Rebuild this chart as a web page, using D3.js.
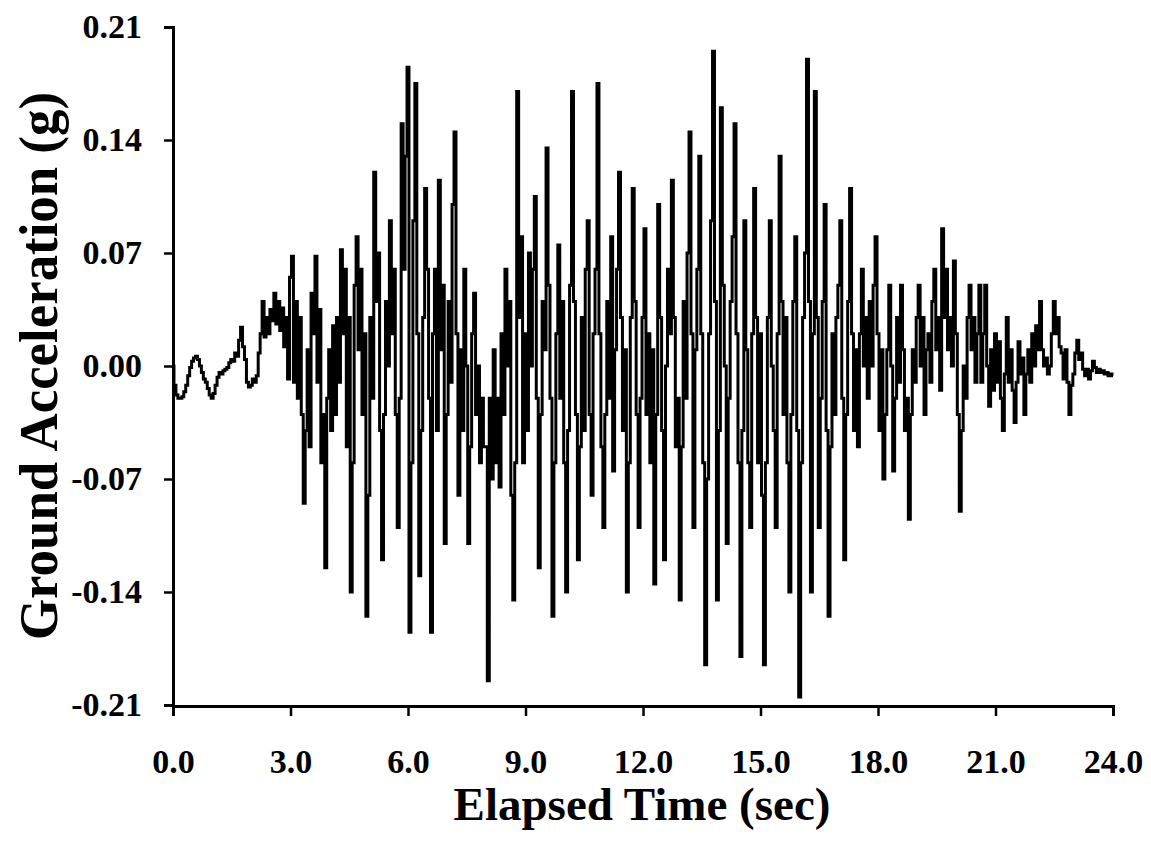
<!DOCTYPE html>
<html>
<head>
<meta charset="utf-8">
<script src="https://cdn.jsdelivr.net/npm/d3@7"></script>
<style>
  body { margin: 0; background: #fff; }
  svg text { font-family: "Liberation Serif", "Times New Roman", serif; font-weight: bold; fill: #000; }
</style>
</head>
<body>
<svg id="chart" width="1151" height="851"></svg>
<script>
// sample spacing of the record (sec)
const dt = 0.05;

// ground acceleration (g), one row per second
const accel = [
  0.000, -0.012, -0.018, -0.020, -0.020, -0.019, -0.016, -0.012, -0.006, -0.001, 0.003, 0.005, 0.006, 0.004, 0.000, -0.004, -0.008, -0.010, -0.014, -0.018,
  -0.020, -0.017, -0.012, -0.007, -0.004, -0.005, -0.003, -0.002, -0.001, 0.002, 0.004, 0.003, 0.008, 0.006, 0.016, 0.024, 0.012, 0.004, -0.010, -0.013,
  -0.012, -0.008, -0.010, -0.006, 0.008, 0.020, 0.040, 0.018, 0.030, 0.020, 0.035, 0.028, 0.045, 0.026, 0.040, 0.022, 0.036, 0.012, 0.030, -0.008,
  0.055, 0.068, -0.010, 0.040, -0.020, 0.030, -0.030, -0.085, -0.040, 0.010, -0.050, 0.045, 0.020, 0.068, -0.010, 0.035, -0.060, -0.030, -0.125, -0.020,
  0.010, -0.040, 0.025, -0.030, 0.030, -0.010, 0.072, 0.020, 0.060, -0.050, 0.030, -0.140, -0.060, 0.050, 0.080, 0.010, 0.060, -0.030, 0.020, -0.155,
  -0.080, 0.030, -0.020, 0.120, 0.040, 0.070, -0.040, -0.120, -0.030, 0.040, 0.000, 0.090, 0.020, 0.060, -0.030, -0.100, -0.020, 0.150, 0.060, 0.130,
  0.185, -0.165, -0.060, 0.090, 0.175, 0.020, -0.130, -0.040, 0.030, 0.110, 0.060, -0.020, -0.165, 0.020, 0.060, -0.040, 0.115, 0.010, 0.050, -0.110,
  -0.030, 0.040, -0.010, 0.100, 0.145, 0.020, -0.080, 0.010, -0.040, 0.060, 0.000, -0.110, -0.050, 0.020, 0.045, -0.030, 0.000, -0.060, -0.020, -0.050,
  -0.050, -0.195, -0.020, -0.070, 0.010, -0.060, -0.020, -0.075, 0.020, -0.030, 0.060, 0.000, 0.040, -0.080, -0.145, -0.060, 0.170, 0.030, 0.080, -0.060,
  0.020, -0.040, 0.070, 0.000, 0.060, 0.105, -0.020, -0.125, -0.030, 0.040, 0.010, 0.135, 0.050, -0.020, -0.155, -0.060, 0.020, 0.075, -0.020, 0.040,
  -0.060, -0.140, -0.040, 0.050, 0.170, 0.040, -0.030, -0.120, -0.050, 0.030, -0.040, 0.060, 0.090, -0.030, -0.080, 0.020, 0.060, 0.175, 0.020, -0.050,
  -0.100, -0.030, 0.040, -0.020, 0.080, -0.065, 0.010, 0.060, 0.120, 0.030, -0.040, 0.010, -0.140, -0.060, 0.030, 0.110, 0.040, -0.030, -0.100, -0.020,
  0.030, 0.085, -0.030, 0.020, -0.060, 0.010, -0.135, -0.030, 0.100, 0.030, -0.040, -0.120, 0.000, 0.060, 0.020, 0.115, 0.030, -0.050, -0.020, -0.145,
  -0.050, 0.040, -0.020, 0.070, 0.145, 0.020, -0.100, 0.010, 0.060, 0.130, 0.020, -0.060, -0.185, -0.070, 0.020, 0.090, 0.195, 0.040, -0.145, -0.040,
  0.160, 0.050, 0.000, -0.110, -0.020, 0.040, 0.080, 0.150, 0.020, -0.060, -0.180, -0.040, 0.090, 0.010, -0.060, -0.100, 0.020, 0.110, 0.030, -0.060,
  0.020, -0.080, -0.185, -0.060, 0.030, 0.090, 0.000, -0.040, -0.100, 0.020, 0.130, 0.040, -0.030, 0.030, -0.060, -0.140, -0.030, 0.040, 0.080, -0.040,
  -0.205, -0.060, 0.030, 0.070, 0.190, 0.040, -0.140, 0.020, 0.170, 0.030, -0.100, -0.020, 0.040, 0.100, -0.040, -0.155, -0.050, 0.020, -0.030, 0.030,
  0.050, 0.090, -0.020, -0.120, -0.030, 0.040, 0.110, 0.020, -0.040, 0.010, -0.050, 0.020, 0.060, 0.000, 0.030, -0.020, 0.040, 0.000, 0.050, 0.080,
  0.020, -0.040, 0.010, -0.070, -0.030, 0.010, 0.050, 0.000, -0.065, -0.020, 0.030, -0.010, 0.050, 0.010, -0.040, -0.020, -0.095, -0.030, 0.010, -0.010,
  0.030, 0.050, 0.000, 0.030, -0.030, 0.010, 0.020, -0.010, 0.040, 0.060, 0.010, 0.030, -0.015, 0.085, 0.030, 0.060, 0.010, 0.030, 0.000, 0.065,
  0.020, -0.030, -0.090, -0.040, 0.000, -0.020, 0.030, 0.050, 0.010, 0.030, -0.010, 0.020, 0.050, -0.010, 0.020, 0.050, 0.000, -0.025, 0.010, -0.015,
  0.020, -0.010, 0.015, -0.020, -0.040, -0.005, 0.030, -0.010, 0.010, -0.015, -0.035, -0.010, 0.015, -0.005, 0.005, -0.030, -0.005, 0.010, -0.010, 0.020,
  0.000, 0.025, 0.010, 0.040, 0.010, 0.000, 0.005, -0.005, 0.000, 0.020, 0.040, 0.020, 0.030, 0.012, 0.008, -0.008, 0.010, -0.010, -0.030, -0.012,
  -0.005, 0.008, 0.016, 0.004, 0.008, -0.002, -0.006, -0.002, -0.008, -0.003, 0.003, -0.001, -0.004, -0.002, -0.004, -0.003, -0.005, -0.004, -0.006, -0.005,
  -0.006
];

const xTicks = [0, 3, 6, 9, 12, 15, 18, 21, 24];
const yTicks = [-0.21, -0.14, -0.07, 0, 0.07, 0.14, 0.21];

const svg = d3.select('#chart');

const x = d3.scaleLinear().domain([0, 24]).range([173, 1113]);
const y = d3.scaleLinear().domain([-0.21, 0.21]).range([705, 27]);

// trace, drawn as steps like the digitised record
const lineFn = d3
  .line()
  .curve(d3.curveStep)
  .x((d, i) => x(i * dt))
  .y(d => y(d));

svg
  .append('path')
  .datum(accel)
  .attr('d', lineFn)
  .attr('fill', 'none')
  .attr('stroke', '#000')
  .attr('stroke-width', 3)
  .attr('stroke-linejoin', 'miter');

// y axis
const yAxis = svg
  .append('g')
  .attr('transform', 'translate(173,0)')
  .call(
    d3
      .axisLeft(y)
      .tickValues(yTicks)
      .tickSize(9)
      .tickPadding(22)
      .tickFormat(d => d.toFixed(2))
  );

// x axis
const xAxis = svg
  .append('g')
  .attr('transform', 'translate(0,706)')
  .call(
    d3
      .axisBottom(x)
      .tickValues(xTicks)
      .tickSize(10)
      .tickPadding(33)
      .tickFormat(d => d.toFixed(1))
  );

[yAxis, xAxis].forEach(g => {
  g.select('.domain').attr('stroke', '#000').attr('stroke-width', 3);
  g.selectAll('.tick line').attr('stroke', '#000').attr('stroke-width', 2.5);
  g.selectAll('.tick text')
    .style('font-family', '"Liberation Serif", serif')
    .style('font-weight', 'bold')
    .style('font-size', '34px')
    .attr('fill', '#000');
});

// axis titles
svg
  .append('text')
  .attr('x', 642)
  .attr('y', 820)
  .attr('text-anchor', 'middle')
  .style('font-size', '47px')
  .text('Elapsed Time (sec)');

svg
  .append('text')
  .attr('transform', 'translate(57,366) rotate(-90)')
  .attr('text-anchor', 'middle')
  .attr('textLength', 548)
  .attr('lengthAdjust', 'spacingAndGlyphs')
  .style('font-size', '54px')
  .text('Ground Acceleration (g)');
</script>
</body>
</html>
